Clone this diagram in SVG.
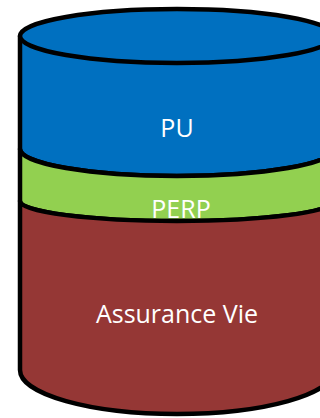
<svg xmlns="http://www.w3.org/2000/svg" width="320" height="418" viewBox="0 0 320 418">
  <style>
    .edge { stroke: #000000; stroke-width: 4.5; stroke-linejoin: round; }
    .blue { fill: #0070C0; }
    .green { fill: #92D050; }
    .red { fill: #953735; }
    .label { fill: #FFFFFF; font-family: "Open Sans", "Liberation Sans", sans-serif; font-size: 25px; text-anchor: middle; }
  </style>
  <rect width="320" height="418" fill="#FFFFFF"/>

  <!-- top layer: PU -->
  <g id="layer-pu">
    <path class="blue edge" d="M20,36 V149 A157 27 0 0 0 334 149 V36 Z"/>
    <ellipse class="blue edge" cx="177" cy="36" rx="157" ry="27"/>
  </g>

  <!-- middle layer: PERP -->
  <g id="layer-perp">
    <path class="green edge" d="M20,149 A157 27 0 0 0 334 149 V201 A157 20 0 0 1 20 201 Z"/>
  </g>

  <text class="label" x="177" y="137">PU</text>
  <text class="label" x="181" y="218">PERP</text>

  <!-- bottom layer: Assurance Vie -->
  <g id="layer-assurance-vie">
    <path class="red edge" d="M20,201 A157 20 0 0 0 334 201 V370 A157 44 0 0 1 20 370 Z"/>
    <text class="label" x="177" y="323">Assurance Vie</text>
  </g>
</svg>
